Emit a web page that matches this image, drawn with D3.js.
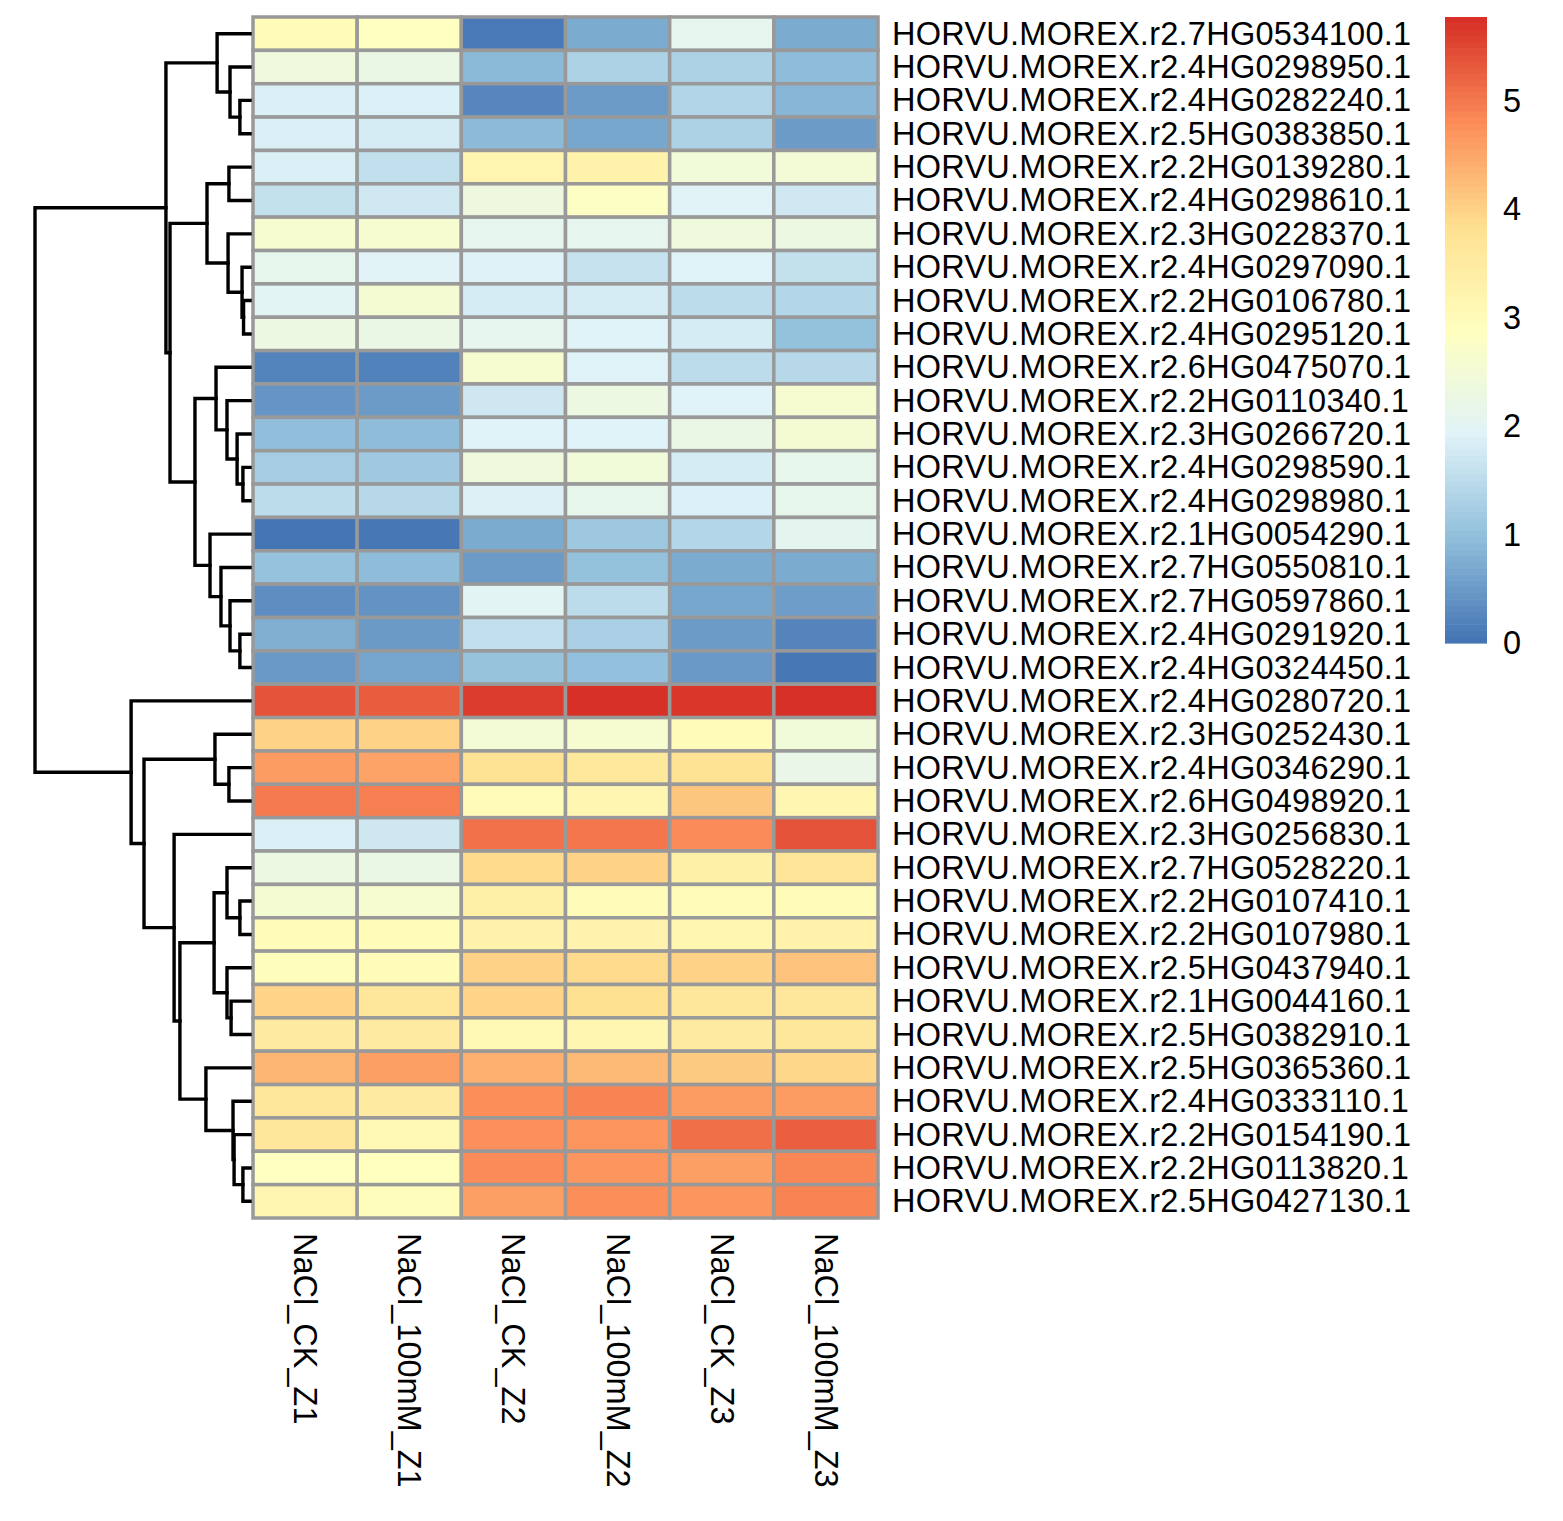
<!DOCTYPE html>
<html><head><meta charset="utf-8">
<script src="https://cdn.jsdelivr.net/npm/d3@7"></script>
<style>
body{margin:0;background:#fff}
text{font-family:"Liberation Sans",Arial,Helvetica,sans-serif;fill:#000}
</style>
</head><body>
<svg id="chart" width="1563" height="1521"></svg>
<script>
// ---------- data ----------
const samples = ["NaCl_CK_Z1","NaCl_100mM_Z1","NaCl_CK_Z2","NaCl_100mM_Z2","NaCl_CK_Z3","NaCl_100mM_Z3"];

const genes = [
"HORVU.MOREX.r2.7HG0534100.1","HORVU.MOREX.r2.4HG0298950.1","HORVU.MOREX.r2.4HG0282240.1",
"HORVU.MOREX.r2.5HG0383850.1","HORVU.MOREX.r2.2HG0139280.1","HORVU.MOREX.r2.4HG0298610.1",
"HORVU.MOREX.r2.3HG0228370.1","HORVU.MOREX.r2.4HG0297090.1","HORVU.MOREX.r2.2HG0106780.1",
"HORVU.MOREX.r2.4HG0295120.1","HORVU.MOREX.r2.6HG0475070.1","HORVU.MOREX.r2.2HG0110340.1",
"HORVU.MOREX.r2.3HG0266720.1","HORVU.MOREX.r2.4HG0298590.1","HORVU.MOREX.r2.4HG0298980.1",
"HORVU.MOREX.r2.1HG0054290.1","HORVU.MOREX.r2.7HG0550810.1","HORVU.MOREX.r2.7HG0597860.1",
"HORVU.MOREX.r2.4HG0291920.1","HORVU.MOREX.r2.4HG0324450.1","HORVU.MOREX.r2.4HG0280720.1",
"HORVU.MOREX.r2.3HG0252430.1","HORVU.MOREX.r2.4HG0346290.1","HORVU.MOREX.r2.6HG0498920.1",
"HORVU.MOREX.r2.3HG0256830.1","HORVU.MOREX.r2.7HG0528220.1","HORVU.MOREX.r2.2HG0107410.1",
"HORVU.MOREX.r2.2HG0107980.1","HORVU.MOREX.r2.5HG0437940.1","HORVU.MOREX.r2.1HG0044160.1",
"HORVU.MOREX.r2.5HG0382910.1","HORVU.MOREX.r2.5HG0365360.1","HORVU.MOREX.r2.4HG0333110.1",
"HORVU.MOREX.r2.2HG0154190.1","HORVU.MOREX.r2.2HG0113820.1","HORVU.MOREX.r2.5HG0427130.1"];

// one array per sample (column), in gene order
const ck_Z1   = [3.0,2.4,1.85,1.85,1.85,1.57,2.6,2.15,2.0,2.3,0.18,0.42,0.95,1.2,1.48,0.0,1.02,0.32,0.75,0.47,
                 5.4,4.0,4.65,5.0,1.85,2.3,2.55,3.0,2.95,3.98,3.5,4.35,3.65,3.65,2.85,3.2];
const salt_Z1 = [2.85,2.25,1.88,1.8,1.55,1.72,2.6,1.95,2.55,2.25,0.17,0.5,0.92,1.15,1.42,0.03,0.92,0.38,0.48,0.62,
                 5.3,4.0,4.55,4.95,1.7,2.25,2.62,3.0,2.98,3.65,3.5,4.6,3.5,3.08,2.9,2.95];
const ck_Z2   = [0.05,0.88,0.22,0.9,3.2,2.35,2.1,1.9,1.8,2.1,2.6,1.7,1.92,2.4,1.87,0.7,0.5,2.0,1.55,1.03,
                 5.65,2.5,3.75,3.0,5.1,3.9,3.35,3.3,4.0,3.98,3.08,4.4,4.8,4.78,4.83,4.6];
const salt_Z2 = [0.7,1.3,0.5,0.65,3.3,2.8,2.1,1.6,1.8,1.93,1.93,2.3,1.92,2.45,2.15,1.12,1.0,1.5,1.28,0.98,
                 5.77,2.6,3.6,3.15,5.05,4.0,3.0,3.25,3.9,3.82,3.15,4.3,4.9,4.72,4.72,4.8];
const ck_Z3   = [2.1,1.3,1.35,1.3,2.45,1.95,2.4,1.92,1.5,1.8,1.48,1.93,2.25,1.8,1.88,1.38,0.7,0.65,0.5,0.47,
                 5.7,3.0,3.75,4.15,4.83,3.35,2.98,3.15,4.0,3.65,3.5,4.1,4.65,5.12,4.6,4.72];
const salt_Z3 = [0.7,0.92,0.85,0.5,2.5,1.72,2.3,1.57,1.38,1.0,1.42,2.6,2.55,2.15,2.15,2.05,0.7,0.52,0.2,0.02,
                 5.77,2.45,2.2,3.15,5.42,3.7,2.98,3.3,4.2,3.65,3.65,3.95,4.65,5.28,4.88,4.9];
const sampleValues = [ck_Z1, salt_Z1, ck_Z2, salt_Z2, ck_Z3, salt_Z3];

// row dendrogram in hclust form: negative = gene (1-based), positive = earlier merge step
const mergeLeft   = [-3,-2,-1,-5,-9,-8,-7,4,-14,-13,-12,-11,-19,-18,-17,-16,12,8,3,
                     -23,-22,-27,-26,-30,-29,23,-35,-34,-33,-32,26,-25,21,-21,19];
const mergeRight  = [-4,1,2,-6,-10,5,6,7,-15,9,10,11,-20,13,14,15,16,17,18,
                     -24,20,-28,22,-31,24,25,-36,27,28,29,30,31,32,33,34];
const mergeHeight = [0.47,0.93,1.53,0.98,0.30,0.37,1.02,2.00,0.33,0.60,1.07,1.58,0.47,0.93,1.35,1.86,2.56,3.72,3.91,
                     0.98,1.63,0.47,1.07,0.88,1.07,1.67,0.33,0.74,0.79,2.05,3.26,3.53,4.93,5.53,10.0];

const legendTicks = [0,1,2,3,4,5];
const palette = ["#4575B4","#91BFDB","#E0F3F8","#FFFFBF","#FEE090","#FC8D59","#D73027"];

// ---------- drawing ----------
const svg = d3.select("#chart");
const FS_ROW = 32.5, FS_COL = 32.5, FS_LEG = 32.5;

const x = d3.scaleBand().domain(samples).range([253, 878]);
const y = d3.scaleBand().domain(genes).range([17, 1218]);

const allVals = sampleValues.flat();
const [vmin, vmax] = d3.extent(allVals);
const color = d3.scaleLinear()
  .domain(palette.map((_, i) => vmin + (vmax - vmin) * i / (palette.length - 1)))
  .range(palette)
  .interpolate(d3.interpolateRgb);

// cells
const cells = [];
samples.forEach((s, j) => genes.forEach((g, i) => cells.push({s, g, v: sampleValues[j][i]})));
svg.append("g").selectAll("rect").data(cells).join("rect")
  .attr("x", d => x(d.s)).attr("y", d => y(d.g))
  .attr("width", x.bandwidth()).attr("height", y.bandwidth())
  .attr("fill", d => color(d.v))
  .attr("stroke", "#999999").attr("stroke-width", 3.5);

// row labels
svg.append("g").selectAll("text").data(genes).join("text")
  .attr("x", 892).attr("y", d => y(d) + y.bandwidth() / 2)
  .attr("dominant-baseline", "central")
  .attr("letter-spacing", 0.26)
  .attr("font-size", FS_ROW).text(d => d);

// column labels
svg.append("g").selectAll("text").data(samples).join("text")
  .attr("transform", d => `translate(${x(d) + x.bandwidth() / 2},1233) rotate(90)`)
  .attr("dominant-baseline", "central")
  .attr("font-size", FS_COL).text(d => d);

// dendrogram
const hx = d3.scaleLinear().domain([0, d3.max(mergeHeight)]).range([250, 35]);
const nodeY = [];
function nodeInfo(id) {
  if (id < 0) { const g = genes[-id - 1]; return {y: y(g) + y.bandwidth() / 2, h: 0}; }
  return {y: nodeY[id - 1], h: mergeHeight[id - 1]};
}
const dendroPaths = [];
mergeHeight.forEach((h, i) => {
  const a = nodeInfo(mergeLeft[i]), b = nodeInfo(mergeRight[i]);
  nodeY[i] = (a.y + b.y) / 2;
  dendroPaths.push(`M${hx(a.h)},${a.y}H${hx(h)}V${b.y}H${hx(b.h)}`);
});
svg.append("g").selectAll("path").data(dendroPaths).join("path")
  .attr("d", d => d).attr("fill", "none")
  .attr("stroke", "#000").attr("stroke-width", 3.4)
  .attr("stroke-linecap", "square");

// legend
const ly = d3.scaleLinear().domain([vmin, vmax]).range([643, 17]);
const steps = d3.range(100).map(k => vmin + (vmax - vmin) * k / 99);
const lg = svg.append("g");
lg.selectAll("rect").data(steps).join("rect")
  .attr("x", 1445).attr("width", 42)
  .attr("y", (d, k) => ly(vmin + (vmax - vmin) * (k + 1) / 100))
  .attr("height", (643 - 17) / 100 + 0.6)
  .attr("fill", d => color(d));
lg.selectAll("text").data(legendTicks).join("text")
  .attr("x", 1503).attr("y", d => ly(d))
  .attr("dominant-baseline", "central")
  .attr("font-size", FS_LEG).text(d => d);
</script>
</body></html>
